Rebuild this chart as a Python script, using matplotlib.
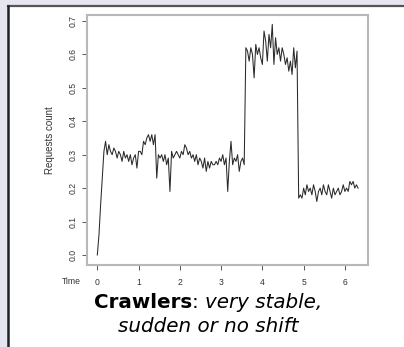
import numpy as np
import matplotlib
matplotlib.use('Agg')
import matplotlib.pyplot as plt
from matplotlib.patches import Rectangle

# sampled request counts, one sample every 0.04 time units starting at 0
requests = [
    0.00, 0.06, 0.15, 0.23, 0.31,
    0.34, 0.30, 0.33, 0.31, 0.30, 0.32, 0.31, 0.29, 0.31, 0.30,
    0.28, 0.31, 0.29, 0.30, 0.28, 0.30, 0.27, 0.29, 0.30, 0.26,
    0.31, 0.31, 0.30, 0.34, 0.33, 0.35, 0.36, 0.34, 0.36, 0.33,
    0.36, 0.23, 0.30, 0.29, 0.30, 0.28, 0.30, 0.27, 0.29, 0.19,
    0.31, 0.29, 0.30, 0.31, 0.30, 0.29, 0.31, 0.30, 0.33, 0.32,
    0.30, 0.31, 0.29, 0.30, 0.28, 0.30, 0.27, 0.29, 0.28, 0.26,
    0.29, 0.25, 0.28, 0.26, 0.28, 0.27, 0.27, 0.28, 0.27, 0.29,
    0.28, 0.30, 0.27, 0.29, 0.19, 0.28, 0.34, 0.27, 0.29, 0.28,
    0.30, 0.25, 0.28, 0.29, 0.27,
    0.62, 0.61, 0.58, 0.62, 0.60, 0.53, 0.63, 0.60, 0.62, 0.59,
    0.57, 0.67, 0.64, 0.58, 0.66, 0.62, 0.69, 0.57, 0.65, 0.60,
    0.62, 0.58, 0.62, 0.60, 0.57, 0.59, 0.55, 0.58, 0.54, 0.62,
    0.56, 0.61,
    0.17, 0.18, 0.17, 0.20, 0.18, 0.21, 0.19, 0.20, 0.18, 0.21,
    0.19, 0.16, 0.19, 0.20, 0.18, 0.21, 0.19, 0.18, 0.21, 0.19,
    0.17, 0.20, 0.18, 0.19, 0.20, 0.18, 0.19, 0.21, 0.19, 0.20,
    0.19, 0.22, 0.21, 0.22, 0.20, 0.21, 0.20,
]
sample_step = 0.04
time = np.arange(len(requests)) * sample_step

xticks = [0, 1, 2, 3, 4, 5, 6]
yticks = [0.0, 0.1, 0.2, 0.3, 0.4, 0.5, 0.6, 0.7]
ytick_labels = ['0.0', '0.1', '0.2', '0.3', '0.4', '0.5', '0.6', '0.7']

W, H = 404, 347
fig = plt.figure(figsize=(W / 100, H / 100), dpi=100)
fig.patch.set_facecolor('#e6e6f0')
# white slide panel with dark top/left border
fig.patches.append(Rectangle((8 / W, 0), 1, 1 - 6 / H, transform=fig.transFigure,
                             facecolor='white', edgecolor='none', zorder=-5))
fig.add_artist(plt.Line2D([8 / W, 1], [1 - 6 / H, 1 - 6 / H], color='#555555', lw=1.6,
                          transform=fig.transFigure, zorder=-4))
fig.add_artist(plt.Line2D([8 / W, 8 / W], [0, 1 - 6 / H], color='#222222', lw=1.8,
                          transform=fig.transFigure, zorder=-4))

ax = fig.add_axes([87 / W, 1 - 265 / H, (368 - 87) / W, (265 - 15) / H])
ax.set_zorder(2)
ax.set_facecolor('white')
ax.plot(time, requests, color='#2a2a2a', lw=0.75)
ax.set_xlim(-0.25, 6.56)
ax.set_ylim(-0.03, 0.718)
ax.set_xticks(xticks)
ax.set_yticks(yticks)
ax.set_yticklabels(ytick_labels, rotation=90, va='center')
for s in ax.spines.values():
    s.set_color('#b8b8b8')
    s.set_linewidth(1.5)
ax.tick_params(axis='both', length=3.6, width=0.7, color='#555555', labelsize=6.2,
               labelcolor='#333333')
ax.tick_params(axis='x', pad=5.5)
ax.tick_params(axis='y', pad=3.5)
for lab in ax.get_xticklabels() + ax.get_yticklabels():
    lab.set_family('Liberation Sans')

fig.text(50 / W, 1 - 140 / H, 'Requests count', rotation=90, ha='center', va='center',
         fontsize=7, color='#333333', family='Liberation Sans')
fig.text(71 / W, 1 - 282 / H, 'Time', ha='center', va='center',
         fontsize=6.2, color='#333333', family='Liberation Sans')

# caption with mixed bold / italic pieces
fs = 14.3
fam = 'DejaVu Sans'
renderer = fig.canvas.get_renderer()
pieces = [('Crawlers', 'normal', 'bold'), (': ', 'normal', 'normal'),
          ('very stable,', 'italic', 'normal')]
texts = []
for s, st, wt in pieces:
    t = fig.text(0, 1 - 302 / H, s, fontsize=fs, family=fam, style=st, weight=wt,
                 ha='left', va='center')
    texts.append(t)
widths = [t.get_window_extent(renderer).width for t in texts]
x0 = 208 - sum(widths) / 2
for t, w in zip(texts, widths):
    t.set_x(x0 / W)
    x0 += w
fig.text(208 / W, 1 - 327 / H, 'sudden or no shift', fontsize=fs, family=fam,
         style='italic', ha='center', va='center')

fig.savefig('out.png', dpi=100, facecolor=fig.get_facecolor())
